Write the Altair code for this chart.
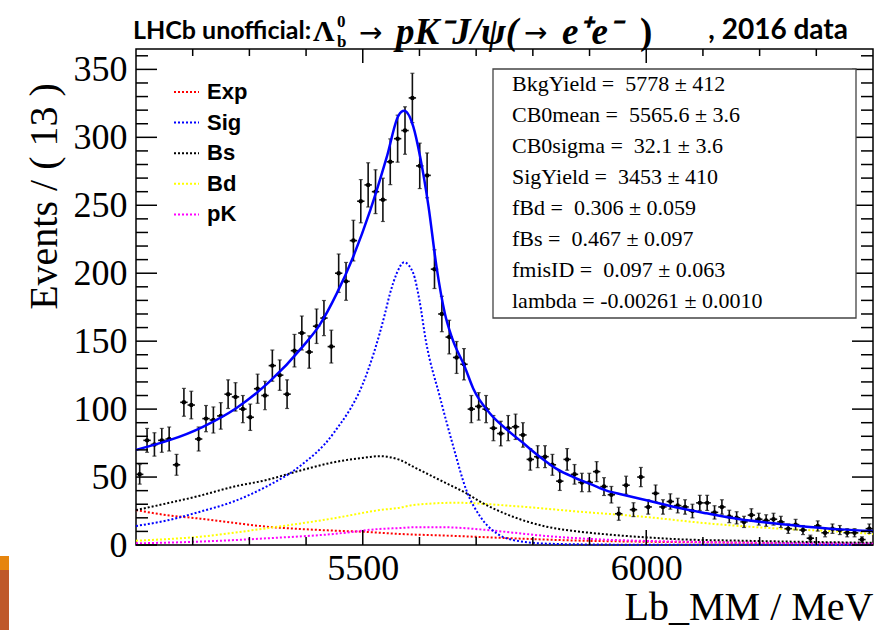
import altair as alt
import pandas as pd
import numpy as np

# ---------------- data ----------------
X_MIN, X_MAX = 5100, 6400
Y_MAX = 365
BIN_W = 13

counts = [52, 77, 74, 77, 78, 59, 105, 103, 78, 93,
          92, 95, 111, 109, 100, 94, 115, 110, 132, 125,
          111, 143, 156, 142, 161, 167, 146, 200, 194, 224,
          253, 265, 260, 254, 282, 299, 305, 329, 279, 272,
          203, 170, 153, 138, 133, 100, 102, 100, 86, 82,
          86, 87, 81, 63, 65, 65, 59, 47, 63, 52,
          46, 46, 54, 43, 37, 23, 44, 26, 50, 28,
          38, 28, 32, 29, 28, 25, 31, 31, 24, 28,
          21, 20, 17, 22, 19, 18, 19, 17, 12, 15,
          11, 5, 14, 9, 12, 11, 9, 9, 4, 12]

total_x = [5100, 5218, 5276, 5335, 5394, 5424, 5454, 5483, 5513, 5542, 5563, 5573,
           5589, 5601, 5616, 5630, 5645, 5657, 5680, 5695, 5724, 5754, 5783, 5812,
           5842, 5871, 5901, 5930, 5959, 5989, 6024, 6048, 6106, 6165, 6224, 6283,
           6342, 6400]
total_y = [70, 87, 100.5, 120, 146, 162, 185, 212, 246, 285, 316, 319.5,
           308, 286, 249, 205, 170, 153, 131, 115, 97, 85, 75, 65,
           56, 50, 45, 40, 37, 34, 30.6, 28.2, 23.3, 18.9, 16, 13.5,
           11.5, 10.3]

sig_x = [5100, 5154, 5213, 5272, 5330, 5389, 5448, 5507, 5530, 5539, 5548, 5560, 5573,
         5589, 5600, 5611, 5636, 5660, 5683, 5707, 5736, 5765, 5824, 5900, 6000, 6400]
sig_y = [14, 18, 24.5, 32, 43, 58, 82, 126, 156, 170, 185, 200, 208,
         200, 180, 151, 109, 72, 40, 21, 8.6, 3.7, 1, 0.4, 0.2, 0.1]

bs_x = [5100, 5154, 5213, 5272, 5330, 5389, 5448, 5507, 5528, 5566, 5589, 5648, 5683,
        5707, 5765, 5824, 5883, 5942, 6000, 6059, 6165, 6280, 6400]
bs_y = [25.7, 30.6, 36.3, 42.9, 47.8, 54.7, 60.8, 64.5, 65.4, 62.5, 57.6, 45.3, 38,
        31.9, 20.8, 13.5, 9.8, 7.4, 5.6, 4.2, 3.2, 2.3, 1.7]

bd_x = [5100, 5213, 5330, 5448, 5530, 5566, 5589, 5665, 5765, 5883, 6000, 6106, 6224, 6342, 6400]
bd_y = [3.2, 6.1, 12.3, 19.6, 25.7, 27.5, 29.4, 31.1, 28.7, 24.5, 20.6, 16, 12.3, 9.8, 8.1]

pk_x = [5100, 5213, 5330, 5448, 5530, 5566, 5589, 5648, 5707, 5765, 5824, 5883, 5942,
        6000, 6100, 6200, 6300, 6400]
pk_y = [1.2, 2.5, 4.9, 8.1, 11.8, 12.5, 13, 13, 11.5, 9.1, 6.6, 4.9, 3.7,
        3, 2.2, 1.7, 1.3, 1]

exp_x = [5100, 5154, 5213, 5272, 5330, 5389, 5448, 5507, 5566, 5648, 5765, 5883, 6000,
         6100, 6200, 6300, 6400]
exp_y = [25.7, 22, 19.4, 16.4, 13.5, 11.8, 10.6, 9.6, 8.1, 6.9, 4.9, 3.2, 2.4,
         1.9, 1.5, 1.2, 0.9]

legend_names = ["Exp", "Sig", "Bs", "Bd", "pK"]
legend_colors = ["#ff0000", "#0000ff", "#000000", "#ffff00", "#ff00ff"]

stats_lines = ["BkgYield =\u00a0 5778 \u00b1 412",
               "CB0mean =\u00a0 5565.6 \u00b1 3.6",
               "CB0sigma =\u00a0 32.1 \u00b1 3.6",
               "SigYield =\u00a0 3453 \u00b1 410",
               "fBd =\u00a0 0.306 \u00b1 0.059",
               "fBs =\u00a0 0.467 \u00b1 0.097",
               "fmisID =\u00a0 0.097 \u00b1 0.063",
               "lambda = -0.00261 \u00b1 0.0010"]

y_major = [0, 50, 100, 150, 200, 250, 300, 350]
y_minor = [v for v in range(10, 361, 10) if v % 50 != 0]
x_major = [5500, 6000]
x_minor = [5200, 5300, 5400, 5600, 5700, 5800, 5900, 6100, 6200, 6300]

# ---------------- layout ----------------
W, H = 737, 496
OX, OY = 136, 49  # plot origin in page

xs = alt.Scale(domain=[X_MIN, X_MAX], nice=False, zero=False)
ys = alt.Scale(domain=[0, Y_MAX], nice=False)
serif = "Liberation Serif"

xaxis = alt.Axis(values=x_major, format="d", ticks=False, tickSize=0, grid=False, domain=False,
                 labelFont=serif, labelFontSize=36, labelPadding=6, labelColor="black",
                 title="Lb_MM / MeV", titleFont=serif, titleFontSize=40, titleFontWeight="normal",
                 titleColor="black", titleAlign="right", titleBaseline="alphabetic",
                 titleX=W, titleY=74)
yaxis = alt.Axis(values=y_major, format="d", ticks=False, tickSize=0, grid=False, domain=False,
                 labelFont=serif, labelFontSize=36, labelPadding=9, labelColor="black",
                 title="Events / ( 13 )", titleFont=serif, titleFontSize=40, titleFontWeight="normal",
                 titleColor="black", titleAlign="center", titleBaseline="alphabetic",
                 titleX=-80, titleY=147)


def X(f):
    return alt.X(f, type="quantitative", scale=xs, axis=xaxis)


def Y(f):
    return alt.Y(f, type="quantitative", scale=ys, axis=yaxis)


pts = pd.DataFrame({"m": [X_MIN + BIN_W * (i + 0.5) for i in range(len(counts))],
                    "n": counts})
err = np.sqrt(pts["n"].astype(float))
pts["lo"] = pts["n"] - err
pts["hi"] = pts["n"] + err
pts["xl"] = pts["m"] - BIN_W / 2
pts["xh"] = pts["m"] + BIN_W / 2

one = pd.DataFrame({"a": [0]})
layers = []

# decoration at bottom-left of the slide
layers.append(alt.Chart(one).mark_rect(color="#e6850e").encode(
    x=alt.value(-OX), x2=alt.value(-OX + 9), y=alt.value(556 - OY), y2=alt.value(570 - OY)))
layers.append(alt.Chart(one).mark_rect(color="#bf582a").encode(
    x=alt.value(-OX), x2=alt.value(-OX + 9), y=alt.value(570 - OY), y2=alt.value(630 - OY)))


def curve(xv, yv, color, dash=True, width=2.0):
    df = pd.DataFrame({"x": xv, "y": yv})
    kw = dict(color=color, strokeWidth=width, interpolate="monotone")
    if dash:
        kw["strokeDash"] = [2, 2]
    return alt.Chart(df).mark_line(**kw).encode(x=X("x"), y=Y("y"))


layers.append(curve(exp_x, exp_y, "#ff0000"))
layers.append(curve(pk_x, pk_y, "#ff00ff"))
layers.append(curve(bd_x, bd_y, "#ffff00"))
layers.append(curve(bs_x, bs_y, "#000000"))
layers.append(curve(sig_x, sig_y, "#0000ff"))

# data with error bars
base = alt.Chart(pts)
layers.append(base.mark_rule(color="#111111", strokeWidth=1.6).encode(x=X("m"), y=Y("lo"), y2="hi"))
layers.append(base.mark_rule(color="#111111", strokeWidth=1.6).encode(x=X("xl"), x2="xh", y=Y("n")))
layers.append(base.mark_tick(orient="horizontal", size=4, thickness=1.2, color="#111111").encode(x=X("m"), y=Y("lo")))
layers.append(base.mark_tick(orient="horizontal", size=4, thickness=1.2, color="#111111").encode(x=X("m"), y=Y("hi")))
layers.append(base.mark_circle(size=20, color="black", opacity=1).encode(x=X("m"), y=Y("n")))

# total fit
layers.append(curve(total_x, total_y, "#0000ff", dash=False, width=2.5))

# inward ticks
ymaj = pd.DataFrame({"v": y_major})
ymin = pd.DataFrame({"v": y_minor})
xmaj = pd.DataFrame({"v": x_major})
xmin = pd.DataFrame({"v": x_minor})
tk = dict(color="black", strokeWidth=1.5)
for df, ln in [(ymaj, 21), (ymin, 12)]:
    layers.append(alt.Chart(df).mark_rule(**tk).encode(y=Y("v"), x=alt.value(0), x2=alt.value(ln)))
    layers.append(alt.Chart(df).mark_rule(**tk).encode(y=Y("v"), x=alt.value(W - ln), x2=alt.value(W)))
for df, lb, lt in [(xmaj, 15, 14), (xmin, 8, 7)]:
    layers.append(alt.Chart(df).mark_rule(**tk).encode(x=X("v"), y=alt.value(H - lb), y2=alt.value(H)))
    layers.append(alt.Chart(df).mark_rule(**tk).encode(x=X("v"), y=alt.value(0), y2=alt.value(lt)))

# legend
for i, (nm, col) in enumerate(zip(legend_names, legend_colors)):
    yy = 43 + i * 30.6
    layers.append(alt.Chart(one).mark_rule(color=col, strokeWidth=2, strokeDash=[2, 2]).encode(
        x=alt.value(38), x2=alt.value(63), y=alt.value(yy)))
    layers.append(alt.Chart(one).mark_text(align="left", baseline="middle", font="Liberation Sans",
                                           fontWeight="bold", fontSize=22, color="black").encode(
        x=alt.value(71), y=alt.value(yy), text=alt.value(nm)))

# stats box
layers.append(alt.Chart(one).mark_rect(fill="white", stroke="#444444", strokeWidth=1.3).encode(
    x=alt.value(357), x2=alt.value(720), y=alt.value(20), y2=alt.value(269)))
for i, line in enumerate(stats_lines):
    layers.append(alt.Chart(one).mark_text(align="left", baseline="middle", font=serif,
                                           fontSize=22, color="black").encode(
        x=alt.value(376), y=alt.value(35 + i * 31), text=alt.value(line)))


def ttext(s, x, y, font, size, italic=False, align="left", bold=True):
    kw = dict(align=align, baseline="middle", font=font, fontSize=size, color="black")
    if bold:
        kw["fontWeight"] = "bold"
    if italic:
        kw["fontStyle"] = "italic"
    return alt.Chart(one).mark_text(**kw).encode(x=alt.value(x - OX), y=alt.value(y - OY), text=alt.value(s))


# title pieces
layers.append(ttext("LHCb unofficial:", 133, 31, "Lato", 25))
layers.append(ttext("\u039b", 313, 32, serif, 30))
layers.append(ttext("0", 337, 22, serif, 17))
layers.append(ttext("b", 337, 42, serif, 17))
layers.append(ttext("\u2192", 359, 34, "DejaVu Sans", 28, bold=False))
layers.append(ttext("pK\u207bJ/\u03c8(", 396, 33, serif, 37, italic=True))
layers.append(ttext("\u2192", 524, 34, "DejaVu Sans", 28, bold=False))
layers.append(ttext("e\u207ae\u207b", 562, 33, serif, 37, italic=True))
layers.append(ttext(")", 640, 33, serif, 37))
layers.append(ttext(", 2016 data", 848, 31, "Lato", 28, align="right"))

chart = alt.layer(*layers).properties(
    width=W, height=H,
    autosize=alt.AutoSizeParams(type="none"),
    padding={"left": OX, "top": OY, "right": 874 - OX - W, "bottom": 630 - OY - H},
).configure_view(stroke="black", strokeWidth=1.5)

chart.save("out.html", embed_options={"renderer": "svg", "actions": False})
